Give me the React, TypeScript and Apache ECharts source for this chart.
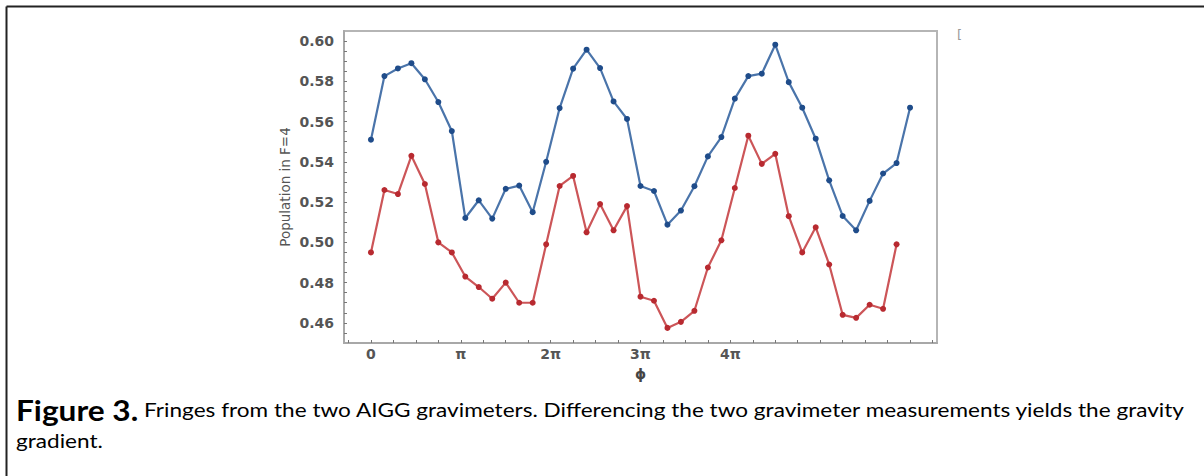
import React, { useEffect, useRef } from "react";
import * as echarts from "echarts";

// x values in units of pi (step 0.15 pi)
const blueValues = [
  0.551, 0.5826, 0.5864, 0.589, 0.581, 0.5697, 0.5553, 0.5121, 0.5209, 0.5118,
  0.5266, 0.5282, 0.515, 0.54, 0.5667, 0.5863, 0.5957, 0.5866, 0.57, 0.5613,
  0.528, 0.5255, 0.5088, 0.5158, 0.5279, 0.5427, 0.5523, 0.5714, 0.5826, 0.5838,
  0.5982, 0.5796, 0.5669, 0.5515, 0.5308, 0.5131, 0.506, 0.5206, 0.5342, 0.5394,
  0.5669,
];
const redValues = [
  0.495, 0.526, 0.524, 0.543, 0.529, 0.5, 0.495, 0.483, 0.4778, 0.472,
  0.48, 0.47, 0.47, 0.499, 0.528, 0.533, 0.505, 0.519, 0.506, 0.518,
  0.473, 0.471, 0.4575, 0.4605, 0.466, 0.4875, 0.501, 0.527, 0.553, 0.539,
  0.544, 0.513, 0.495, 0.5075, 0.489, 0.464, 0.4625, 0.469, 0.467, 0.499,
];
const phaseStep = 0.15;
const xLabelValues = [0, 1, 2, 3, 4];
const xLabelTexts = ["0", "π", "2π", "3π", "4π"];
const xTickValues = [
  -0.25, 0, 0.25, 0.5, 0.75, 1, 1.25, 1.5, 1.75, 2, 2.25, 2.5, 2.75, 3, 3.25,
  3.5, 3.75, 4, 4.25, 4.5, 4.75, 5, 5.25, 5.5, 5.75, 6, 6.25,
];
const yLabelValues = [0.46, 0.48, 0.5, 0.52, 0.54, 0.56, 0.58, 0.6];
const yTickValues = [
  0.455, 0.46, 0.465, 0.47, 0.475, 0.48, 0.485, 0.49, 0.495, 0.5, 0.505, 0.51,
  0.515, 0.52, 0.525, 0.53, 0.535, 0.54, 0.545, 0.55, 0.555, 0.56, 0.565, 0.57,
  0.575, 0.58, 0.585, 0.59, 0.595, 0.6,
];
const captionBold = "Figure 3.";
const captionLine1 = " Fringes from the two AIGG gravimeters. Differencing the two gravimeter measurements yields the gravity";
const captionLine2 = "gradient.";

export default function App() {
  const ref = useRef<HTMLDivElement>(null);
  useEffect(() => {
    if (!ref.current) return;
    const chart = echarts.init(ref.current, null, { renderer: "svg" });
    const blueData = blueValues.map((v, i) => [+(i * phaseStep).toFixed(4), v]);
    const redData = redValues.map((v, i) => [+(i * phaseStep).toFixed(4), v]);
    const tickFont = {
      fontFamily: "DejaVu Sans",
      fontSize: 14,
      fontWeight: "bold" as const,
      color: "#555",
    };
    chart.setOption({
      animation: false,
      backgroundColor: "#fff",
      grid: {
        left: 344,
        top: 31,
        right: 267,
        bottom: 133,
        show: true,
        borderColor: "#b5b5b5",
        borderWidth: 2,
        backgroundColor: "transparent",
      },
      xAxis: {
        type: "value",
        min: -0.3,
        max: 6.3,
        name: "ϕ",
        nameLocation: "middle",
        nameGap: 24,
        nameTextStyle: { fontFamily: "DejaVu Sans", fontSize: 14, color: "#444", fontWeight: "bold" },
        axisLine: { show: true, onZero: false, lineStyle: { color: "#a8a8a8", width: 2 } },
        splitLine: { show: false },
        axisTick: {
          show: true,
          inside: true,
          length: 3,
          customValues: xTickValues,
          lineStyle: { color: "#777", width: 1 },
        },
        axisLabel: {
          customValues: xLabelValues,
          formatter: (v: number) => {
            const idx = xLabelValues.indexOf(Math.round(v));
            return idx >= 0 ? xLabelTexts[idx] : "";
          },
          margin: 4,
          ...tickFont,
        },
      },
      yAxis: {
        type: "value",
        min: 0.45,
        max: 0.605,
        name: "Population in F=4",
        nameLocation: "middle",
        nameGap: 52,
        nameTextStyle: { fontFamily: "DejaVu Sans", fontSize: 13.5, color: "#555" },
        axisLine: { show: true, onZero: false, lineStyle: { color: "#a8a8a8", width: 2 } },
        splitLine: { show: false },
        axisTick: {
          show: true,
          inside: true,
          length: 3,
          customValues: yTickValues,
          lineStyle: { color: "#777", width: 1 },
        },
        axisLabel: {
          customValues: yLabelValues,
          formatter: (v: number) => v.toFixed(2),
          margin: 10,
          ...tickFont,
        },
      },
      series: [
        {
          type: "line",
          data: blueData,
          symbol: "circle",
          symbolSize: 6,
          lineStyle: { color: "#4a74aa", width: 2.2 },
          itemStyle: { color: "#1f4c8a" },
          z: 3,
        },
        {
          type: "line",
          data: redData,
          symbol: "circle",
          symbolSize: 6,
          lineStyle: { color: "#cc5558", width: 2.2 },
          itemStyle: { color: "#b82a30" },
          z: 2,
        },
      ],
      graphic: [
        {
          type: "line",
          shape: { x1: 6.5, y1: 6.5, x2: 1204, y2: 6.5 },
          style: { stroke: "#222", lineWidth: 2 },
        },
        {
          type: "line",
          shape: { x1: 6.5, y1: 6.5, x2: 6.5, y2: 476 },
          style: { stroke: "#222", lineWidth: 2 },
        },
        {
          type: "text",
          x: 957,
          y: 28,
          style: { text: "[", fontFamily: "DejaVu Sans", fontSize: 13, fill: "#999" },
        },
        {
          type: "text",
          x: 16,
          y: 396,
          scaleX: 1.13,
          style: {
            text: `{b|${captionBold}}{n|${captionLine1}}`,
            rich: {
              b: { fontFamily: "Lato", fontSize: 28, fontWeight: "bold", fill: "#000" },
              n: { fontFamily: "Lato", fontSize: 20, fill: "#000" },
            },
          },
        },
        {
          type: "text",
          x: 16,
          y: 431,
          scaleX: 1.13,
          style: { text: captionLine2, fontFamily: "Lato", fontSize: 20, fill: "#000" },
        },
      ],
    });
    return () => chart.dispose();
  }, []);
  return (
    <div style={{ position: "fixed", left: 0, top: 0, width: 1204, height: 476, background: "#fff" }}>
      <div ref={ref} style={{ width: 1204, height: 476 }} />
    </div>
  );
}
